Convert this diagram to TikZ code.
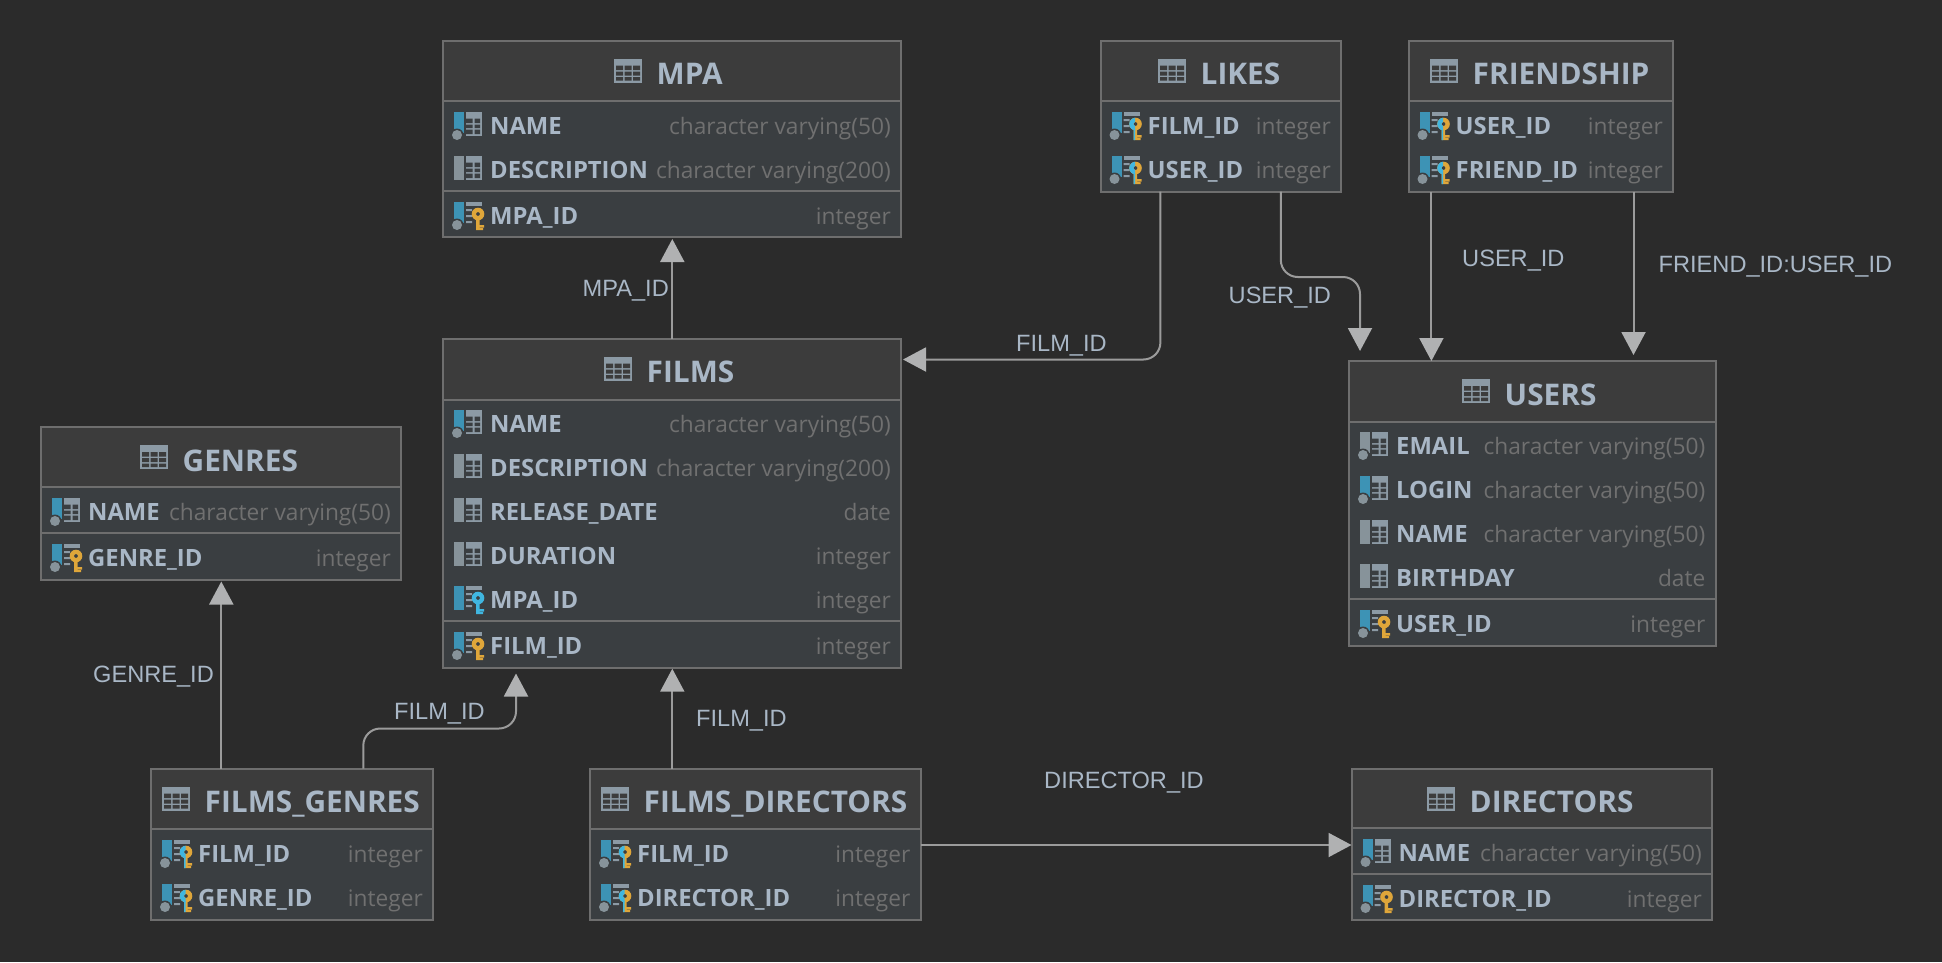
\documentclass[tikz,border=0pt]{standalone}
\usepackage{fontspec}
\usetikzlibrary{arrows.meta}
\newfontfamily\rowfont{Open Sans}
\newfontfamily\lblfont{Liberation Sans}
\definecolor{bgc}{HTML}{2B2B2B}
\definecolor{hdrc}{HTML}{3C3C3C}
\definecolor{bodyc}{HTML}{3A3E41}
\definecolor{edgec}{HTML}{6E6E6E}
\definecolor{namec}{HTML}{A9B7C6}
\definecolor{typec}{HTML}{707070}
\definecolor{barblue}{HTML}{3D93B5}
\definecolor{bargrey}{HTML}{87939A}
\definecolor{gridc}{HTML}{8C9AA5}
\definecolor{goldc}{HTML}{DFA63A}
\definecolor{keyblue}{HTML}{40B6E0}
\definecolor{linec}{HTML}{9B9B9B}
\definecolor{tipc}{HTML}{B0B1B2}
\tikzset{
  tablebody/.style={draw=edgec,fill=bodyc,line width=2pt,inner sep=0pt,outer sep=0pt,anchor=north west},
  titletext/.style={text=namec,anchor=base west,inner sep=0pt,font=\rowfont\bfseries\fontsize{29.8}{32}\selectfont},
  nametext/.style={text=namec,anchor=base west,inner sep=0pt,font=\rowfont\bfseries\fontsize{23.8}{26}\selectfont},
  typetext/.style={text=typec,anchor=base east,inner sep=0pt,font=\rowfont\fontsize{22.7}{26}\selectfont},
  lbl/.style={text=namec,anchor=base west,inner sep=0pt,font=\lblfont\fontsize{23.6}{26}\selectfont},
  conn/.style={draw=linec,line width=2pt,rounded corners=17pt,-{Triangle[length=23pt,width=24pt,color=tipc]}},
}
\newcommand\hdricon[2]{% x, top y
  \begin{scope}[shift={(#1,#2)}]
    \fill[gridc] (0,0) rectangle (28,24);
    \fill[hdrc] (2,7) rectangle (9,11.5) (10.5,7) rectangle (17.5,11.5) (19,7) rectangle (26,11.5)
      (2,13) rectangle (9,17) (10.5,13) rectangle (17.5,17) (19,13) rectangle (26,17)
      (2,18.5) rectangle (9,22) (10.5,18.5) rectangle (17.5,22) (19,18.5) rectangle (26,22);
  \end{scope}}
\newcommand\tablebox[8]{% name, L, T, R, B, header rule y, icon x, title
  \node[tablebody,minimum width={#4-#2},minimum height={#5-#3}] (#1) at (#2,#3) {};
  \fill[hdrc] (#2+1,#3+1) rectangle (#4-1,#6);
  \draw[edgec,line width=2pt] (#2+1,#6) -- (#4-1,#6);
  \hdricon{#7}{#3+18}
  \node[titletext] (#1-title) at (#7+42.5,#3+44.2) {#8};
  \def\tL{#2}\def\tR{#4}\def\tN{#1}}
\newcommand\rowrule[1]{\draw[edgec,line width=2pt] (\tL+1,#1) -- (\tR-1,#1);}
\newcommand\gridpart{%
  \fill[gridc] (12,-14) rectangle (28,10);
  \fill[bodyc] (12,-7.5) rectangle (18.5,-3) (20.5,-7.5) rectangle (26,-3)
    (12,-1.5) rectangle (18.5,2) (20.5,-1.5) rectangle (26,2)
    (12,3.5) rectangle (18.5,8) (20.5,3.5) rectangle (26,8);}
\newcommand\dashpart{%
  \fill[gridc] (12,-14) rectangle (28,-10.5);
  \fill[gridc] (12,-7) rectangle (18,-5) (12,-1) rectangle (18,1) (12,5) rectangle (18,7);}
\newcommand\bardot{\fill[bodyc] (3,9) circle (6.5); \fill[bargrey] (3,9) circle (5);}
\newcommand\keyshape[1]{% key outline with hole
  \fill[#1,even odd rule] (24,-2) circle (6.3) (24,-2) circle (2);
  \fill[#1] (22,3) rectangle (25.5,14) (25,9) rectangle (30,11.5) (25,12) rectangle (29,14);}
\newcommand\halfkey{%
  \keyshape{goldc}
  \begin{scope}
    \clip (15,-10) rectangle (23.7,16);
    \keyshape{keyblue}
  \end{scope}}
% icon kinds: x = icon left, y = row centre
\newcommand\rowicon[3]{%
  \begin{scope}[shift={(#1,#2)}]
    \ifcase#3\relax
      \fill[barblue] (0,-14) rectangle (10,7); \bardot \gridpart     % 0 blue with dot
    \or \fill[bargrey] (0,-14) rectangle (10,7); \bardot \gridpart   % 1 grey with dot
    \or \fill[bargrey] (0,-14) rectangle (10,10); \gridpart          % 2 grey bar
    \or \fill[barblue] (0,-14) rectangle (10,10); \dashpart \keyshape{keyblue} % 3 foreign key
    \or \fill[barblue] (0,-14) rectangle (10,7); \bardot \dashpart \keyshape{goldc} % 4 primary key
    \or \fill[barblue] (0,-14) rectangle (10,7); \bardot \dashpart \halfkey % 5 both
    \fi
  \end{scope}}
\newcommand\colrow[5]{% index, row centre y, kind, name, type
  \rowicon{\tL+11}{#2}{#3}
  \node[nametext] (\tN-#1-n) at (\tL+47,#2+8.7) {#4};
  \node[typetext] (\tN-#1-t) at (\tR-10,#2+8.7) {#5};}
\begin{document}
\begin{tikzpicture}[x=1pt,y=-1pt]
\useasboundingbox (0,0) rectangle (1942,962);
\fill[bgc] (0,0) rectangle (1942,962);

\tablebox{mpa}{443}{40.5}{901}{237}{101}{614}{MPA}
\colrow{1}{126}{0}{NAME}{character varying(50)}
\colrow{2}{170}{2}{DESCRIPTION}{character varying(200)}
\rowrule{191}
\colrow{3}{216}{4}{MPA\_ID}{integer}

\tablebox{likes}{1100.5}{40.5}{1341}{191.5}{101}{1158}{LIKES}
\colrow{1}{126}{5}{FILM\_ID}{integer}
\colrow{2}{170}{5}{USER\_ID}{integer}

\tablebox{friendship}{1408.5}{40.5}{1673}{191.5}{101}{1430}{FRIENDSHIP}
\colrow{1}{126}{5}{USER\_ID}{integer}
\colrow{2}{170}{5}{FRIEND\_ID}{integer}

\tablebox{films}{443}{338.5}{901}{667.5}{399.5}{604}{FILMS}
\colrow{1}{424}{0}{NAME}{character varying(50)}
\colrow{2}{468}{2}{DESCRIPTION}{character varying(200)}
\colrow{3}{512}{2}{RELEASE\_DATE}{date}
\colrow{4}{556}{2}{DURATION}{integer}
\colrow{5}{600}{3}{MPA\_ID}{integer}
\rowrule{621}
\colrow{6}{646}{4}{FILM\_ID}{integer}

\tablebox{users}{1349}{361}{1715.5}{645.5}{421.5}{1462}{USERS}
\colrow{1}{446}{1}{EMAIL}{character varying(50)}
\colrow{2}{490}{0}{LOGIN}{character varying(50)}
\colrow{3}{534}{2}{NAME}{character varying(50)}
\colrow{4}{578}{2}{BIRTHDAY}{date}
\rowrule{599}
\colrow{5}{624}{4}{USER\_ID}{integer}

\tablebox{genres}{41}{427}{401}{579.5}{487}{140}{GENRES}
\colrow{1}{512}{0}{NAME}{character varying(50)}
\rowrule{533}
\colrow{2}{558}{4}{GENRE\_ID}{integer}

\tablebox{fg}{151}{768.5}{433}{919.5}{829}{162}{FILMS\_GENRES}
\colrow{1}{854}{5}{FILM\_ID}{integer}
\colrow{2}{898}{5}{GENRE\_ID}{integer}

\tablebox{fd}{590}{768.5}{920.5}{919.5}{829}{601}{FILMS\_DIRECTORS}
\colrow{1}{854}{5}{FILM\_ID}{integer}
\colrow{2}{898}{5}{DIRECTOR\_ID}{integer}

\tablebox{directors}{1351.5}{768.5}{1712}{920}{828}{1427}{DIRECTORS}
\colrow{1}{853}{0}{NAME}{character varying(50)}
\rowrule{874}
\colrow{2}{899}{4}{DIRECTOR\_ID}{integer}

% connectors
\coordinate (likesbend) at (1320,277);
\coordinate (fgbend) at (440,728.5);
\draw[conn] ([xshift=229.3pt]films.north west) -- ([xshift=229.3pt,yshift=-2pt]mpa.south west);
\draw[conn] ([xshift=59.9pt]likes.south west) |- ([xshift=2pt,yshift=-21pt]films.north east);
\draw[conn] ([xshift=180.3pt]likes.south west) |- (likesbend) -| ([xshift=11pt,yshift=10pt]users.north west);
\draw[conn] ([xshift=22.9pt]friendship.south west) -- ([xshift=82.4pt]users.north west);
\draw[conn] ([xshift=225pt]friendship.south west) -- ([xshift=284.5pt,yshift=6pt]users.north west);
\draw[conn] ([xshift=70.3pt]fg.north west) -- ([xshift=180.3pt,yshift=-2pt]genres.south west);
\draw[conn] ([xshift=212.3pt]fg.north west) |- (fgbend) -| ([xshift=73pt,yshift=-6pt]films.south west);
\draw[conn] ([xshift=82.3pt]fd.north west) -- ([xshift=229.3pt,yshift=-1.2pt]films.south west);
\draw[conn] ([yshift=-76.5pt]fd.north east) -- ([yshift=-76.5pt]directors.north west);

% connector labels
\node[lbl] (lblmpa) at (582.5,296.3) {MPA\_ID};
\node[lbl] (lbllikesfilm) at (1016,351.3) {FILM\_ID};
\node[lbl] (lbllikesuser) at (1228.5,303.9) {USER\_ID};
\node[lbl] (lblfrienduser) at (1462,266.3) {USER\_ID};
\node[lbl] (lblfriendfriend) at (1658.5,272.3) {FRIEND\_ID:USER\_ID};
\node[lbl] (lblgenre) at (93,682.3) {GENRE\_ID};
\node[lbl] (lblfgfilm) at (394,719.3) {FILM\_ID};
\node[lbl] (lblfdfilm) at (696,726.8) {FILM\_ID};
\node[lbl] (lbldirector) at (1044,788.6) {DIRECTOR\_ID};
\end{tikzpicture}
\end{document}
